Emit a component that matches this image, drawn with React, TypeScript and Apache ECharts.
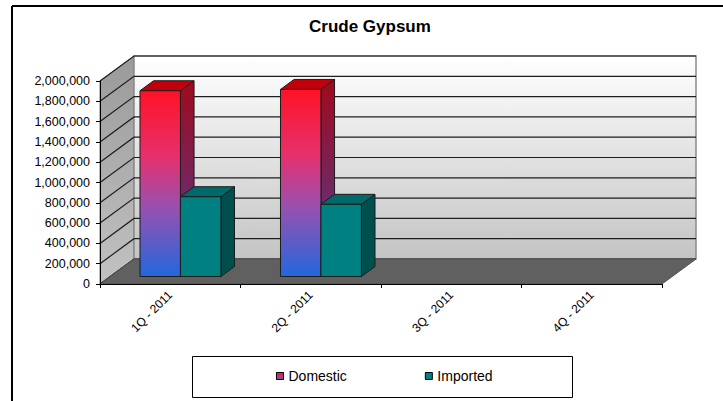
import React, { useEffect, useRef } from "react";
import * as echarts from "echarts";

const categories = ["1Q - 2011", "2Q - 2011", "3Q - 2011", "4Q - 2011"];
const domestic: (number | null)[] = [1830000, 1843000, null, null];
const imported: (number | null)[] = [786000, 711000, null, null];
const yTicks = [0, 200000, 400000, 600000, 800000, 1000000, 1200000, 1400000, 1600000, 1800000, 2000000];
const Y_MIN = 0;
const Y_MAX = 2000000;
const Y_STEP = 200000;

const FONT = '"Liberation Sans", Arial, Helvetica, sans-serif';
const DX = 34;
const DY = -25;
const F0 = 0.3;
const F1 = 0.7;
const BAR_FRAC = 0.288;

const LG = echarts.graphic.LinearGradient;

function wallsRender(params: any, api: any) {
  const cs = params.coordSys;
  const x0 = cs.x, y0 = cs.y, w = cs.width, h = cs.height;
  const children: any[] = [];
  children.push({
    type: "polygon",
    shape: { points: [[x0, y0 + h], [x0, y0], [x0 + DX, y0 + DY], [x0 + DX, y0 + h + DY]] },
    style: {
      fill: new LG(0, 0, 0, 1, [
        { offset: 0, color: "#9a9a9a" },
        { offset: 1, color: "#c2c2c2" },
      ]),
      stroke: "#7a7a7a",
      lineWidth: 1,
    },
  });
  children.push({
    type: "rect",
    shape: { x: x0 + DX, y: y0 + DY, width: w, height: h },
    style: {
      fill: new LG(0, 0, 0, 1, [
        { offset: 0, color: "#ffffff" },
        { offset: 1, color: "#c4c4c4" },
      ]),
      stroke: "#8a8a8a",
      lineWidth: 1.5,
    },
  });
  for (const v of yTicks) {
    const y = api.coord([0, v])[1];
    children.push({
      type: "polyline",
      shape: { points: [[x0, y], [x0 + DX, y + DY], [x0 + w + DX, y + DY]] },
      style: { stroke: "#1e1e1e", lineWidth: 1.2, fill: null },
    });
  }
  children.push({
    type: "polygon",
    shape: { points: [[x0, y0 + h], [x0 + w, y0 + h], [x0 + w + DX, y0 + h + DY], [x0 + DX, y0 + h + DY]] },
    style: { fill: "#606060", stroke: "#505050", lineWidth: 1 },
  });
  return { type: "group", children };
}

function makeBarRender(idx: number, front: any, side: any, top: string) {
  return (params: any, api: any) => {
    const v = api.value(1);
    if (v == null || isNaN(v)) return null;
    const cat = api.value(0);
    const band = api.size([1, 0])[0];
    const bw = band * BAR_FRAC;
    const c = api.coord([cat, 0]);
    const t = api.coord([cat, v]);
    const xl = c[0] + (idx === 0 ? -bw : 0) + DX * F0;
    const xr = xl + bw;
    const yb = c[1] + DY * F0;
    const yt = t[1] + DY * F0;
    const ddx = DX * (F1 - F0);
    const ddy = DY * (F1 - F0);
    const stroke = "#1c1c1c";
    return {
      type: "group",
      children: [
        {
          type: "polygon",
          shape: { points: [[xr, yt], [xr + ddx, yt + ddy], [xr + ddx, yb + ddy], [xr, yb]] },
          style: { fill: side, stroke, lineWidth: 1 },
        },
        {
          type: "polygon",
          shape: { points: [[xl, yt], [xr, yt], [xr + ddx, yt + ddy], [xl + ddx, yt + ddy]] },
          style: { fill: top, stroke, lineWidth: 1 },
        },
        {
          type: "rect",
          shape: { x: xl, y: yt, width: bw, height: yb - yt },
          style: { fill: front, stroke, lineWidth: 1 },
        },
      ],
    };
  };
}

export default function App() {
  const ref = useRef<HTMLDivElement>(null);
  useEffect(() => {
    if (!ref.current) return;
    const chart = echarts.init(ref.current, null, { renderer: "svg" });
    const domFront = new LG(0, 0, 0, 1, [
      { offset: 0, color: "#ff1226" },
      { offset: 0.35, color: "#e6306c" },
      { offset: 0.62, color: "#9a50ae" },
      { offset: 1, color: "#2268dc" },
    ]);
    const domSide = new LG(0, 0, 0, 1, [
      { offset: 0, color: "#a00a1c" },
      { offset: 0.6, color: "#702866" },
      { offset: 1, color: "#20408c" },
    ]);
    const domLegend = new LG(0, 0, 0, 1, [
      { offset: 0, color: "#ff1226" },
      { offset: 1, color: "#7a58c0" },
    ]);
    const option: any = {
      animation: false,
      backgroundColor: "#ffffff",
      textStyle: { fontFamily: FONT },
      title: {
        text: "Crude Gypsum",
        left: 309,
        top: 18,
        padding: 0,
        textStyle: { fontFamily: FONT, fontSize: 17, fontWeight: "bold", color: "#000" },
      },
      legend: {
        left: 276,
        top: 369,
        padding: 0,
        icon: "rect",
        itemWidth: 7,
        itemHeight: 7,
        itemGap: 78,
        itemStyle: { borderColor: "#000", borderWidth: 1 },
        textStyle: { fontFamily: FONT, fontSize: 14, color: "#000" },
        data: ["Domestic", "Imported"],
      },
      grid: { left: 100, top: 81, width: 562, height: 203, containLabel: false },
      xAxis: {
        type: "category",
        data: categories,
        z: 5,
        boundaryGap: true,
        axisLine: { show: true, lineStyle: { color: "#000", width: 1 } },
        axisTick: { show: true, length: 4, lineStyle: { color: "#000" } },
        axisLabel: {
          rotate: 45,
          margin: 9,
          fontFamily: FONT,
          fontSize: 12,
          color: "#000",
          interval: 0,
        },
        splitLine: { show: false },
      },
      yAxis: {
        type: "value",
        min: Y_MIN,
        max: Y_MAX,
        interval: Y_STEP,
        z: 5,
        axisLine: { show: true, lineStyle: { color: "#000", width: 1 } },
        axisTick: { show: true, length: 4, lineStyle: { color: "#000" } },
        axisLabel: {
          margin: 10,
          fontFamily: FONT,
          fontSize: 12.5,
          color: "#000",
          formatter: (v: number) => v.toLocaleString("en-US"),
        },
        splitLine: { show: false },
      },
      graphic: [
        { type: "line", shape: { x1: 12, y1: 6, x2: 723, y2: 6 }, style: { stroke: "#000", lineWidth: 2 }, z: 10 },
        { type: "line", shape: { x1: 12, y1: 6, x2: 12, y2: 401 }, style: { stroke: "#000", lineWidth: 2 }, z: 10 },
        {
          type: "rect",
          shape: { x: 192.5, y: 356.5, width: 380, height: 41 },
          style: { fill: "#fff", stroke: "#000", lineWidth: 1 },
          z: 0,
        },
      ],
      series: [
        {
          type: "custom",
          name: "walls",
          silent: true,
          z: 1,
          renderItem: wallsRender,
          data: [[0, 0]],
          encode: { x: 0, y: 1 },
        },
        {
          type: "custom",
          name: "Domestic",
          z: 3,
          itemStyle: { color: domLegend },
          renderItem: makeBarRender(0, domFront, domSide, "#c2000c"),
          data: domestic.map((v, i) => [i, v]).filter((d) => d[1] != null),
          encode: { x: 0, y: 1 },
        },
        {
          type: "custom",
          name: "Imported",
          z: 4,
          itemStyle: { color: "#008080" },
          renderItem: makeBarRender(1, "#008080", "#004f4f", "#006a6a"),
          data: imported.map((v, i) => [i, v]).filter((d) => d[1] != null),
          encode: { x: 0, y: 1 },
        },
      ],
    };
    chart.setOption(option);
    return () => chart.dispose();
  }, []);
  return (
    <div
      ref={ref}
      style={{ position: "fixed", left: 0, top: 0, width: 723, height: 401, background: "#fff" }}
    />
  );
}
